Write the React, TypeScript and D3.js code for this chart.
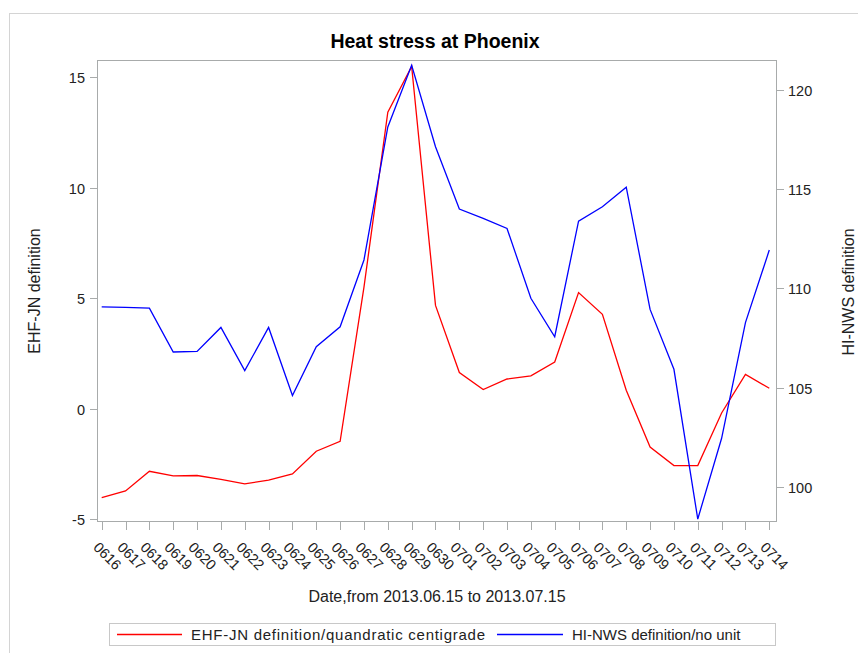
import React, { useEffect, useRef } from "react";
import * as d3 from "d3";

const dates = [
  "0616", "0617", "0618", "0619", "0620", "0621", "0622", "0623", "0624", "0625",
  "0626", "0627", "0628", "0629", "0630", "0701", "0702", "0703", "0704", "0705",
  "0706", "0707", "0708", "0709", "0710", "0711", "0712", "0713", "0714"
];

// EHF-JN definition (left axis)
const ehf = [
  -4.03, -3.73, -2.84, -3.05, -3.03, -3.21, -3.41, -3.24, -2.96, -1.93,
  -1.48, 5.5, 13.42, 15.49, 4.67, 1.63, 0.86, 1.34, 1.48, 2.11,
  5.25, 4.27, 0.83, -1.74, -2.58, -2.58, -0.2, 1.55, 0.92
];

// HI-NWS definition (right axis)
const hi = [
  109.07, 109.04, 109.0, 106.79, 106.82, 108.03, 105.85, 108.03, 104.6, 107.06,
  108.06, 111.43, 118.14, 121.25, 117.14, 114.0, 113.53, 113.02, 109.5, 107.56,
  113.39, 114.11, 115.1, 108.94, 105.92, 98.37, 102.44, 108.27, 111.93
];

const leftTicks = [-5, 0, 5, 10, 15];
const rightTicks = [100, 105, 110, 115, 120];

const width = 858;
const height = 653;
const font = "Arial, 'Liberation Sans', sans-serif";
const frame = { left: 97, right: 776, top: 60, bottom: 521 };

const drawChart = (node: SVGSVGElement) => {
  const svg = d3.select(node);
  svg.selectAll("*").remove();

  const x = d3.scalePoint<string>().domain(dates).range([101.7, 769.3]);
  const yL = d3.scaleLinear().domain([-5, 15]).range([519, 77.3]);
  const yR = d3.scaleLinear().domain([100, 120]).range([486.7, 90]);

  // outer border
  svg.append("rect")
    .attr("x", 9.5).attr("y", 13.5)
    .attr("width", width).attr("height", height)
    .attr("fill", "none").attr("stroke", "#d4d4d4");

  svg.append("text")
    .attr("x", 435).attr("y", 48)
    .attr("text-anchor", "middle")
    .attr("font-family", font).attr("font-weight", "bold").attr("font-size", 19.5)
    .text("Heat stress at Phoenix");

  // plot frame
  svg.append("rect")
    .attr("x", frame.left + 0.5).attr("y", frame.top + 0.5)
    .attr("width", frame.right - frame.left).attr("height", frame.bottom - frame.top)
    .attr("fill", "none").attr("stroke", "#a8abab");

  const axisG = svg.append("g").attr("stroke", "#a8abab").attr("font-family", font).attr("font-size", 14.5);

  // left axis
  leftTicks.forEach(t => {
    const yy = Math.round(yL(t)) + 0.5;
    axisG.append("line").attr("x1", frame.left - 7).attr("x2", frame.left).attr("y1", yy).attr("y2", yy);
    axisG.append("text")
      .attr("x", frame.left - 12).attr("y", yy)
      .attr("dy", "0.35em").attr("text-anchor", "end")
      .attr("stroke", "none").attr("fill", "#222")
      .text(t);
  });

  // right axis
  rightTicks.forEach(t => {
    const yy = Math.round(yR(t)) + 0.5;
    axisG.append("line").attr("x1", frame.right + 1).attr("x2", frame.right + 8).attr("y1", yy).attr("y2", yy);
    axisG.append("text")
      .attr("x", frame.right + 12).attr("y", yy)
      .attr("dy", "0.35em").attr("text-anchor", "start")
      .attr("stroke", "none").attr("fill", "#222")
      .text(t);
  });

  // bottom axis
  dates.forEach(d => {
    const xx = Math.round(x(d)!) + 0.5;
    axisG.append("line").attr("x1", xx).attr("x2", xx).attr("y1", frame.bottom + 1).attr("y2", frame.bottom + 9);
    axisG.append("text")
      .attr("transform", `translate(${xx + 5},${556}) rotate(45)`)
      .attr("text-anchor", "middle").attr("dy", "0.35em")
      .attr("stroke", "none").attr("fill", "#222")
      .text(d);
  });

  const labelG = svg.append("g").attr("font-family", font).attr("font-size", 16).attr("fill", "#222");
  labelG.append("text")
    .attr("transform", `translate(34,291) rotate(-90)`)
    .attr("text-anchor", "middle").attr("dy", "0.35em")
    .text("EHF-JN definition");
  labelG.append("text")
    .attr("transform", `translate(848,292) rotate(-90)`)
    .attr("text-anchor", "middle").attr("dy", "0.35em")
    .text("HI-NWS definition");
  labelG.append("text")
    .attr("x", 437).attr("y", 602)
    .attr("text-anchor", "middle")
    .text("Date,from 2013.06.15 to 2013.07.15");

  const lineL = d3.line<number>().x((_, i) => x(dates[i])!).y(d => yL(d));
  const lineR = d3.line<number>().x((_, i) => x(dates[i])!).y(d => yR(d));

  svg.append("path").datum(ehf)
    .attr("d", lineL).attr("fill", "none").attr("stroke", "#ff0000").attr("stroke-width", 1.3);
  svg.append("path").datum(hi)
    .attr("d", lineR).attr("fill", "none").attr("stroke", "#0000ff").attr("stroke-width", 1.3);

  // legend
  const lg = svg.append("g").attr("font-family", font).attr("font-size", 15).attr("fill", "#222");
  lg.append("rect")
    .attr("x", 109.5).attr("y", 623.5).attr("width", 666).attr("height", 22)
    .attr("fill", "none").attr("stroke", "#c8c8c8");
  lg.append("line").attr("x1", 117).attr("x2", 182).attr("y1", 634.5).attr("y2", 634.5)
    .attr("stroke", "#ff0000").attr("stroke-width", 1.3);
  lg.append("text").attr("x", 191).attr("y", 634.5).attr("dy", "0.35em")
    .attr("textLength", 294).attr("lengthAdjust", "spacing")
    .text("EHF-JN definition/quandratic centigrade");
  lg.append("line").attr("x1", 497).attr("x2", 563).attr("y1", 634.5).attr("y2", 634.5)
    .attr("stroke", "#0000ff").attr("stroke-width", 1.3);
  lg.append("text").attr("x", 572).attr("y", 634.5).attr("dy", "0.35em")
    .text("HI-NWS definition/no unit");
};

const App = () => {
  const ref = useRef<SVGSVGElement>(null);
  useEffect(() => {
    if (ref.current) drawChart(ref.current);
  }, []);

  return (
    <svg ref={ref} width={width} height={height}
      style={{ position: "absolute", left: 0, top: 0, background: "#fff" }} />
  );
};

export default App;
